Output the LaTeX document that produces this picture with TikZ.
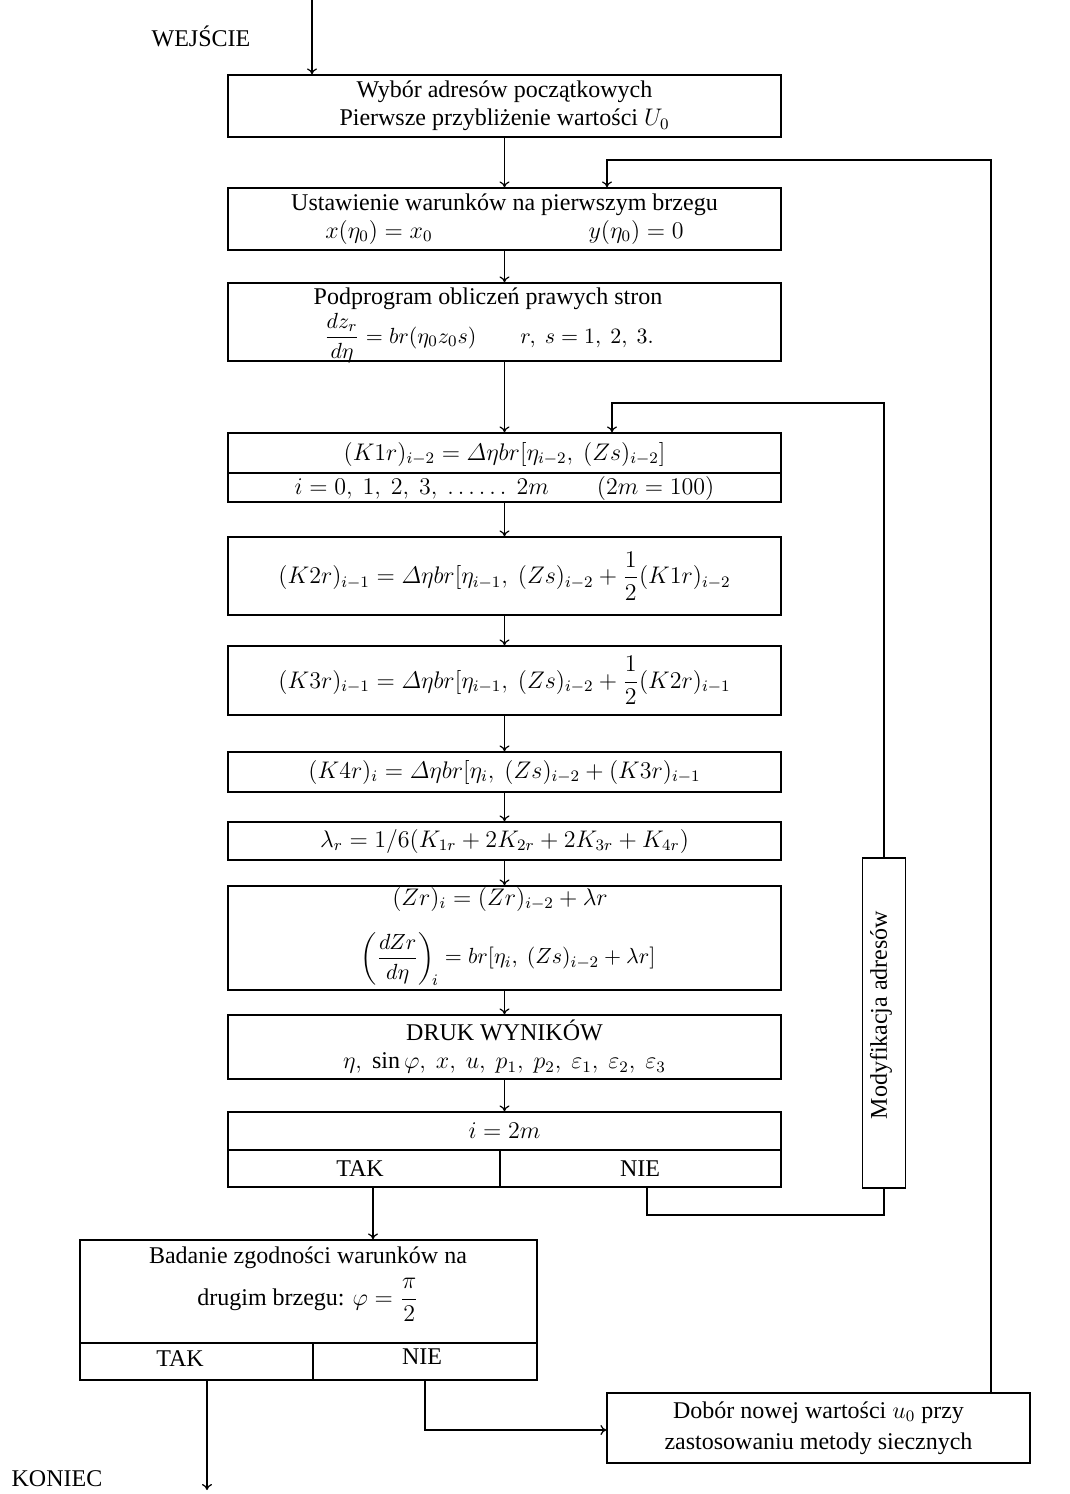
\documentclass[tikz,border=0pt]{standalone}
\usepackage{amsmath}
\usepackage{fontspec}
\setmainfont{Liberation Serif}
\usetikzlibrary{arrows.meta,calc}
\begin{document}
\begin{tikzpicture}[x=0.5pt,y=-0.5pt,
  every node/.style={font=\fontsize{12}{14}\selectfont},
  box/.style={draw, line width=0.6pt, inner sep=0pt, align=center},
  wh/.style 2 args={minimum width=#1*0.5pt, minimum height=#2*0.5pt},
  arr/.style={line width=0.6pt, -{To[length=3pt,width=5pt]}},
  ln/.style={line width=0.6pt},
  lbl/.style={inner sep=0pt},
  smallmath/.style={inner sep=0pt, font=\fontsize{11}{13}\selectfont}]
\useasboundingbox (0,0) rectangle (1070,1494);

% main column boxes
\node[box,wh={553}{62}] (b1) at (504.5,106) {Wybór adresów początkowych\\Pierwsze przybliżenie wartości $U_0$};
\node[box,wh={553}{62}] (b2) at (504.5,219) {Ustawienie warunków na pierwszym brzegu\\ $x(\eta_0) = x_0$\hspace{6.5em}$y(\eta_0) = 0$};

\node[box,wh={553}{78}] (b3) at (504.5,322) {};
\node[lbl] (b3a) at (488,299) {Podprogram obliczeń prawych stron};
\node[smallmath] (b3b) at (489,338) {$\dfrac{dz_r}{d\eta} = br(\eta_0 z_0 s)\qquad r,\ s = 1,\ 2,\ 3.$};

\node[box,wh={553}{69}] (k1) at (504.5,467.5) {};
\coordinate (k1m) at (504.5,473);
\draw[ln] (k1.west |- k1m) -- (k1.east |- k1m);
\node[lbl] (k1a) at (504.5,454) {$(K1r)_{i-2} = \varDelta\eta br[\eta_{i-2},\ (Zs)_{i-2}]$};
\node[lbl] (k1b) at (504.5,488) {$i = 0,\ 1,\ 2,\ 3,\ \ldots\ldots\ 2m\qquad(2m = 100)$};

\node[box,wh={553}{78}] (k2) at (504.5,576) {$(K2r)_{i-1} = \varDelta\eta br[\eta_{i-1},\ (Zs)_{i-2}+\dfrac{1}{2}(K1r)_{i-2}$};
\node[box,wh={553}{69}] (k3) at (504.5,680.5) {$(K3r)_{i-1} = \varDelta\eta br[\eta_{i-1},\ (Zs)_{i-2}+\dfrac{1}{2}(K2r)_{i-1}$};
\node[box,wh={553}{40}] (k4) at (504.5,772) {$(K4r)_i = \varDelta\eta br[\eta_i,\ (Zs)_{i-2}+(K3r)_{i-1}$};
\node[box,wh={553}{38}] (la) at (504.5,841) {$\lambda_r = 1/6(K_{1r}+2K_{2r}+2K_{3r}+K_{4r})$};

\node[box,wh={553}{104}] (zr) at (504.5,938) {};
\node[lbl] (zra) at (500,899) {$(Zr)_i = (Zr)_{i-2}+\lambda r$};
\node[smallmath] (zrb) at (508,959) {$\biggl(\dfrac{dZr}{d\eta}\biggr)_{\!i} = br[\eta_i,\ (Zs)_{i-2}+\lambda r]$};

\node[box,wh={553}{64}] (dr) at (504.5,1047) {DRUK WYNIKÓW\\ $\eta,\ \sin\varphi,\ x,\ u,\ p_1,\ p_2,\ \varepsilon_1,\ \varepsilon_2,\ \varepsilon_3$};

\node[box,wh={553}{75}] (ib) at (504.5,1149.5) {};
\coordinate (ibm) at (500,1150);
\draw[ln] (ib.west |- ibm) -- (ib.east |- ibm);
\draw[ln] (ibm) -- (ibm |- ib.south);
\node[lbl] (ibt) at (504.5,1131) {$i = 2m$};
\node[lbl] (ibtak) at (360,1169) {TAK};
\node[lbl] (ibnie) at (640,1169) {NIE};

% address modification box
\node[box,wh={43}{330}] (m) at (884,1023) {};
\node[lbl,rotate=90] (mt) at (881,1015) {Modyfikacja adresów};

% boundary check box
\node[box,wh={457}{140}] (bb) at (308.5,1310) {};
\coordinate (bbm) at (313,1343);
\draw[ln] (bb.west |- bbm) -- (bb.east |- bbm);
\draw[ln] (bbm) -- (bbm |- bb.south);
\node[lbl] (bbt1) at (308,1258) {Badanie zgodności warunków na};
\node[lbl] (bbt2) at (308,1300) {drugim brzegu: $\varphi = \dfrac{\pi}{2}$};
\node[lbl,anchor=base] (bbtak) at (180,1366) {TAK};
\node[lbl,anchor=base] (bbnie) at (422,1364) {NIE};

% new value box
\node[box,wh={423}{70}] (nb) at (818.5,1428) {Dobór nowej wartości $u_0$ przy\\[1.5pt]zastosowaniu metody siecznych};

% labels
\node[lbl] (we) at (201,36) {WEJŚCIE};
\node[lbl] (ko) at (57,1479) {KONIEC};

% connectors
\coordinate (in) at (312,0);
\draw[arr] (in) -- (in |- b1.north);
\draw[arr] (b1) -- (b2);
\coordinate (r1) at (991,160);
\coordinate (t1) at (607,160);
\draw[arr] (nb.north -| r1) -- (r1) -- (t1) -- (t1 |- b2.north);
\draw[arr] (b2) -- (b3);
\draw[arr] (b3) -- (k1);
\coordinate (r2) at (884,403);
\coordinate (t2) at (612,403);
\draw[arr] (m.north) -- (r2) -- (t2) -- (t2 |- k1.north);
\draw[arr] (k1) -- (k2);
\draw[arr] (k2) -- (k3);
\draw[arr] (k3) -- (k4);
\draw[arr] (k4) -- (la);
\draw[arr] (la) -- (zr);
\draw[arr] (zr) -- (dr);
\draw[arr] (dr) -- (ib);
\coordinate (c1) at (373,1200);
\draw[arr] (ib.south -| c1) -- (bb.north -| c1);
\coordinate (c2) at (647,1215);
\draw[ln] (ib.south -| c2) -- (c2) -| (m.south);
\coordinate (e) at (207,1490);
\draw[arr] (bb.south -| e) -- (e);
\coordinate (c3) at (425,1430);
\draw[arr] (bb.south -| c3) -- (c3) -- (c3 -| nb.west);
\end{tikzpicture}
\end{document}
